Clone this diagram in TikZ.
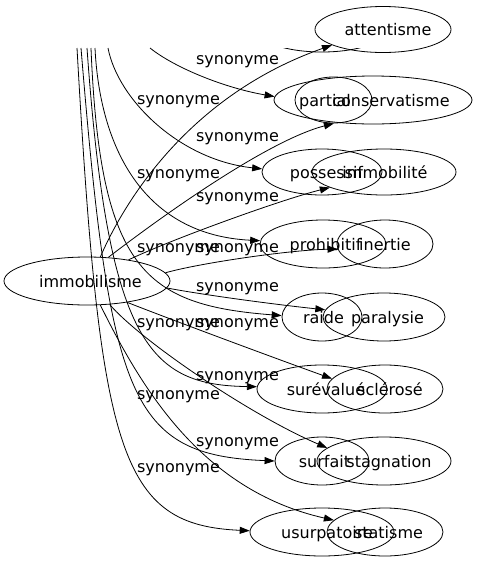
\documentclass[tikz,border=0pt]{standalone}
\usepackage{fontspec}
\setmainfont{DejaVu Sans}
\usetikzlibrary{shapes.geometric,arrows.meta}
\begin{document}
\begin{tikzpicture}[x=1pt,y=-1pt,
  ell/.style={ellipse,draw,inner sep=0pt,line width=0.8pt},
  txt/.style={anchor=base,inner sep=0pt,font=\fontsize{16}{19}\selectfont},
  lbl/.style={anchor=base,inner sep=0pt,font=\fontsize{16}{19}\selectfont},
  arr/.style={line width=0.8pt,-{Triangle[length=10pt,width=7pt]}}]
\useasboundingbox (0,0) rectangle (477,563);

% source node
\node[ell,minimum width=166pt,minimum height=48pt] (immo) at (87,281) {};
\node[txt] (immoT) at (90.5,287) {immobilisme};

% right column (graph A)
\node[ell,minimum width=136pt,minimum height=46pt] (att) at (383,29.5) {};
\node[ell,minimum width=198pt,minimum height=48pt] (cons) at (373,100) {};
\node[ell,minimum width=144pt,minimum height=46pt] (immob) at (384,172) {};
\node[ell,minimum width=96pt,minimum height=48pt] (inert) at (385,244) {};
\node[ell,minimum width=122pt,minimum height=48pt] (paral) at (384,317) {};
\node[ell,minimum width=116pt,minimum height=48pt] (scler) at (385,389) {};
\node[ell,minimum width=134pt,minimum height=48pt] (stag) at (384,461) {};
\node[ell,minimum width=116pt,minimum height=48pt] (stat) at (385,532) {};

\node[txt] (attT) at (388,35.5) {attentisme};
\node[txt] (consT) at (391,106) {conservatisme};
\node[txt] (immobT) at (385,178) {immobilité};
\node[txt] (inertT) at (385,250) {inertie};
\node[txt] (paralT) at (387.5,323) {paralysie};
\node[txt] (sclerT) at (390,395) {sclérosé};
\node[txt] (stagT) at (389,467) {stagnation};
\node[txt] (statT) at (388.5,538) {statisme};

% left column (graph B)
\begin{scope}
\clip (0,48) rectangle (477,563);
\node[ell,minimum width=132pt,minimum height=46pt] (hidden) at (322,29) {};
\end{scope}
\node[ell,minimum width=77pt,minimum height=46pt] (part) at (333.5,100) {};
\node[ell,minimum width=120pt,minimum height=46pt] (poss) at (322,172) {};
\node[ell,minimum width=126pt,minimum height=48pt] (proh) at (323,244) {};
\node[ell,minimum width=80pt,minimum height=48pt] (raide) at (322,317) {};
\node[ell,minimum width=130pt,minimum height=48pt] (surev) at (322,389) {};
\node[ell,minimum width=94pt,minimum height=48pt] (surf) at (322,461) {};
\node[ell,minimum width=144pt,minimum height=48pt] (usurp) at (322,532) {};

\node[txt] (partT) at (325,106) {partial};
\node[txt] (possT) at (326.5,178) {possessif};
\node[txt] (prohT) at (325.5,250) {prohibitif};
\node[txt] (raideT) at (323.5,323) {raide};
\node[txt] (surevT) at (326,395) {surévalué};
\node[txt] (surfT) at (324.5,467) {surfait};
\node[txt] (usurpT) at (327,538) {usurpatoire};

% edges from immobilisme
\draw[arr] (immo.61.6) .. controls (125,200) and (190,95) .. (att.197);
\draw[arr] (immo.48.8) .. controls (170,210) and (270,140) .. (part.-89);
\draw[arr] (immo.27.1) .. controls (170,240) and (280,200) .. (immob.196);
\draw[arr] (immo.6.8) .. controls (200,263) and (290,250) .. (inert.186);
\draw[arr] (immo.-5.8) .. controls (210,296) and (280,305) .. (paral.173.5);
\draw[arr] (immo.-28.8) .. controls (180,323) and (280,360) .. (scler.169);
\draw[arr] (immo.-46.2) .. controls (140,340) and (250,415) .. (stag.167.5);
\draw[arr] (immo.-61.6) .. controls (140,385) and (200,490) .. (stat.167);

% edges entering from the top
\coordinate (tC) at (150,48);
\coordinate (tPo) at (108,48);
\coordinate (tPh) at (95,48);
\coordinate (tR) at (91,48);
\coordinate (tSv) at (87,48);
\coordinate (tSf) at (81,48);
\coordinate (tU) at (77,48);
\draw[arr] (tC) .. controls (175,68) and (225,88) .. (cons.178.3);
\draw[arr] (tPo) .. controls (118,100) and (180,160) .. (poss.177);
\draw[arr] (tPh) .. controls (100,150) and (145,235) .. (proh.177.3);
\draw[arr] (tR) .. controls (100,270) and (145,305) .. (raide.178.6);
\draw[arr] (tSv) .. controls (108,345) and (150,385) .. (surev.178.3);
\draw[arr] (tSf) .. controls (110,400) and (130,455) .. (surf.180);
\draw[arr] (tU) .. controls (100,455) and (120,525) .. (usurp.179.2);

% edge labels
\node[lbl] (la1) at (237.5,64) {synonyme};
\node[lbl] (la2) at (237.5,141) {synonyme};
\node[lbl] (la3) at (237.5,201) {synonyme};
\node[lbl] (la4) at (237.5,252) {synonyme};
\node[lbl] (la5) at (237.5,291) {synonyme};
\node[lbl] (la6) at (237.5,327) {synonyme};
\node[lbl] (la7) at (237.5,380) {synonyme};
\node[lbl] (la8) at (237.5,446) {synonyme};
\node[lbl] (lb1) at (178.5,104) {synonyme};
\node[lbl] (lb2) at (178.5,178) {synonyme};
\node[lbl] (lb3) at (178.5,252) {synonyme};
\node[lbl] (lb4) at (178.5,327) {synonyme};
\node[lbl] (lb5) at (178.5,399) {synonyme};
\node[lbl] (lb6) at (178.5,472) {synonyme};
\end{tikzpicture}
\end{document}
